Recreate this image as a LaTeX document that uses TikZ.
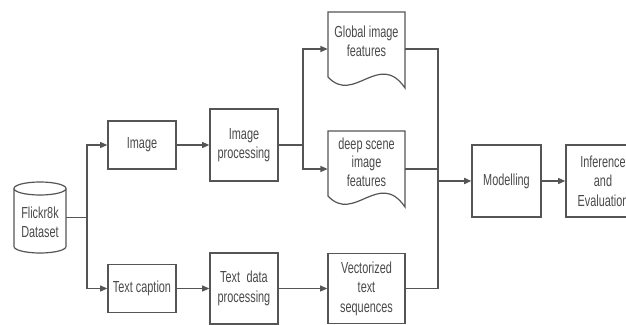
\documentclass[tikz,border=0pt]{standalone}
\usepackage{fontspec}
\setmainfont{Liberation Sans}[FakeStretch=0.68]
\usetikzlibrary{arrows.meta}
\definecolor{linec}{HTML}{555555}
\definecolor{txtc}{HTML}{4A4A4A}
\begin{document}
\begin{tikzpicture}[x=0.75pt,y=-0.75pt,
  box/.style={draw=linec, line width=0.9pt, fill=white, text=txtc, align=center, inner sep=0pt, font=\fontsize{12}{14.6}\selectfont},
  ghost/.style={inner sep=0pt},
  txt/.style={text=txtc, align=center, inner sep=0pt, font=\fontsize{12}{14}\selectfont},
  conn/.style={draw=linec, line width=0.9pt},
  arr/.style={conn, -{Triangle[length=5.5pt,width=4.5pt]}},
  shp/.style={draw=linec, line width=0.9pt, fill=white}]
\useasboundingbox (0,0) rectangle (626,325);
\clip (0,0) rectangle (626,325);
\fill[white] (0,0) rectangle (626,325);

% cylinder
\draw[shp] (14,188.5) -- (14,246.5) arc[start angle=180,end angle=0,x radius=26,y radius=6.5] -- (66,188.5);
\draw[shp] (40,188.5) ellipse [x radius=26,y radius=6.5];
\node[ghost, minimum width=39pt, minimum height=53.25pt] (data) at (40,217.5) {};
\node[txt] (datat) at (40,222) {Flickr8k\\Dataset};

% boxes
\node[box, minimum width=51pt, minimum height=36pt] (img) at (142,145) {Image};
\node[box, minimum width=51pt, minimum height=54pt] (imgp) at (244,145) {Image\\processing};
\node[box, minimum width=51pt, minimum height=36pt] (cap) at (142,288.5) {Text caption};
\node[box, minimum width=51pt, minimum height=53.25pt] (tdp) at (244,288.5) {Text\hspace{0.4em}data\\processing};
\node[box, minimum width=57.75pt, minimum height=52.5pt] (vec) at (366.5,288.5) {Vectorized\\text\\sequences};
\node[box, minimum width=51.75pt, minimum height=54pt] (mod) at (506.5,181) {Modelling};
\node[box, minimum width=55.5pt, minimum height=54pt] (inf) at (603,181) {Inference\\and\\Evaluation};

% documents
\draw[shp] (328,12) -- (405,12) -- (405,88) .. controls (379,50) and (354,105) .. (328,77) -- cycle;
\node[ghost, minimum width=57.75pt, minimum height=55.5pt] (glob) at (366.5,49) {};
\node[txt] (globt) at (366.5,41) {Global image\\features};

\draw[shp] (328,131) -- (405,131) -- (405,207) .. controls (379,169) and (354,224) .. (328,196) -- cycle;
\node[ghost, minimum width=57.75pt, minimum height=57pt] (deep) at (366.5,169) {};
\node[txt] (deept) at (366.5,162) {deep scene\\image\\features};

% connectors
\coordinate (s1) at (87,217.5);
\draw[conn] (data.east) -- (s1);
\draw[arr] (s1) |- (img.west);
\draw[arr] (s1) |- (cap.west);
\draw[arr] (img.east) -- (imgp.west);
\draw[arr] (cap.east) -- (tdp.west);
\draw[arr] (tdp.east) -- (vec.west);

\coordinate (s2) at (303,145);
\draw[conn] (imgp.east) -- (s2);
\draw[arr] (s2) |- (glob.west);
\draw[arr] (s2) |- (deep.west);

\coordinate (m) at (438,181);
\draw[conn] (glob.east) -| (m);
\draw[conn] (vec.east) -| (m);
\draw[conn] (deep.east) -- (deep.east -| m);
\draw[arr, line width=1.8pt] (m) -- (mod.west);
\draw[arr] (mod.east) -- (inf.west);
\end{tikzpicture}
\end{document}
